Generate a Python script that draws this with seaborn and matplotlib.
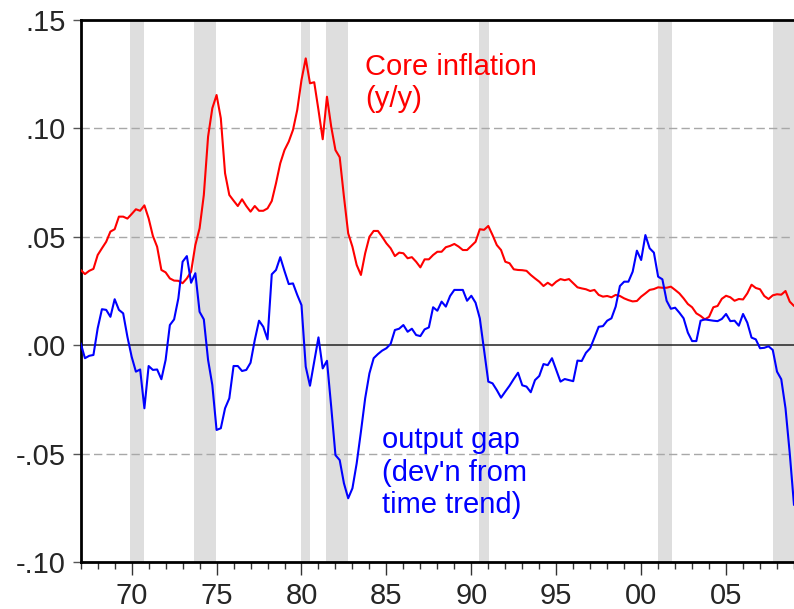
import numpy as np
import pandas as pd
import matplotlib
matplotlib.use("Agg")
import matplotlib.pyplot as plt
import seaborn as sns
from matplotlib.ticker import FuncFormatter, MultipleLocator

# ---------------- data (quarterly, starting 1967Q1) ----------------
start_year = 1967
core_inflation = [
    0.0347, 0.0328, 0.0343, 0.0352,   # 1967
    0.0416, 0.0447, 0.0477, 0.0524,   # 1968
    0.0535, 0.0593, 0.0593, 0.0584,   # 1969
    0.0605, 0.0627, 0.0620, 0.0645,   # 1970
    0.0585, 0.0504, 0.0454, 0.0347,   # 1971
    0.0336, 0.0308, 0.0298, 0.0297,   # 1972
    0.0286, 0.0308, 0.0339, 0.0462,   # 1973
    0.0539, 0.0693, 0.0962, 0.1093,   # 1974
    0.1154, 0.1047, 0.0793, 0.0693,   # 1975
    0.0667, 0.0642, 0.0673, 0.0642,   # 1976
    0.0616, 0.0642, 0.0620, 0.0620,   # 1977
    0.0631, 0.0665, 0.0747, 0.0839,   # 1978
    0.0900, 0.0939, 0.0993, 0.1085,   # 1979
    0.1223, 0.1323, 0.1208, 0.1213,   # 1980
    0.1085, 0.0950, 0.1146, 0.1008,   # 1981
    0.0900, 0.0867, 0.0685, 0.0516,   # 1982
    0.0454, 0.0370, 0.0324, 0.0424,   # 1983
    0.0500, 0.0527, 0.0527, 0.0500,   # 1984
    0.0470, 0.0447, 0.0411, 0.0427,   # 1985
    0.0424, 0.0401, 0.0406, 0.0385,   # 1986
    0.0359, 0.0396, 0.0396, 0.0416,   # 1987
    0.0431, 0.0431, 0.0452, 0.0458,   # 1988
    0.0467, 0.0455, 0.0439, 0.0439,   # 1989
    0.0458, 0.0477, 0.0535, 0.0532,   # 1990
    0.0550, 0.0508, 0.0462, 0.0439,   # 1991
    0.0385, 0.0378, 0.0350, 0.0347,   # 1992
    0.0346, 0.0343, 0.0324, 0.0308,   # 1993
    0.0293, 0.0273, 0.0288, 0.0275,   # 1994
    0.0293, 0.0305, 0.0300, 0.0305,   # 1995
    0.0286, 0.0267, 0.0262, 0.0258,   # 1996
    0.0250, 0.0255, 0.0232, 0.0224,   # 1997
    0.0227, 0.0221, 0.0232, 0.0227,   # 1998
    0.0216, 0.0208, 0.0202, 0.0204,   # 1999
    0.0224, 0.0239, 0.0255, 0.0259,   # 2000
    0.0267, 0.0265, 0.0265, 0.0270,   # 2001
    0.0255, 0.0239, 0.0216, 0.0190,   # 2002
    0.0175, 0.0147, 0.0135, 0.0119,   # 2003
    0.0131, 0.0175, 0.0181, 0.0214,   # 2004
    0.0228, 0.0221, 0.0205, 0.0213,   # 2005
    0.0211, 0.0239, 0.0279, 0.0264,   # 2006
    0.0258, 0.0227, 0.0213, 0.0230,   # 2007
    0.0235, 0.0233, 0.0250, 0.0201,   # 2008
    0.0181,                           # 2009
]
output_gap = [
    0.0009, -0.0060, -0.0049, -0.0045,   # 1967
    0.0078, 0.0166, 0.0163, 0.0131,      # 1968
    0.0212, 0.0163, 0.0147, 0.0039,      # 1969
    -0.0053, -0.0122, -0.0112, -0.0291,  # 1970
    -0.0096, -0.0114, -0.0112, -0.0157,  # 1971
    -0.0068, 0.0093, 0.0119, 0.0216,     # 1972
    0.0385, 0.0411, 0.0288, 0.0332,      # 1973
    0.0154, 0.0119, -0.0068, -0.0184,    # 1974
    -0.0391, -0.0383, -0.0291, -0.0245,  # 1975
    -0.0096, -0.0096, -0.0119, -0.0114,  # 1976
    -0.0081, 0.0024, 0.0113, 0.0085,     # 1977
    0.0027, 0.0327, 0.0347, 0.0406,      # 1978
    0.0342, 0.0282, 0.0285, 0.0232,      # 1979
    0.0185, -0.0099, -0.0187, -0.0076,   # 1980
    0.0036, -0.0107, -0.0072, -0.0284,   # 1981
    -0.0507, -0.0530, -0.0637, -0.0706,  # 1982
    -0.0660, -0.0545, -0.0399, -0.0245,  # 1983
    -0.0130, -0.0060, -0.0041, -0.0025,  # 1984
    -0.0014, 0.0006, 0.0070, 0.0076,     # 1985
    0.0093, 0.0062, 0.0076, 0.0047,      # 1986
    0.0042, 0.0073, 0.0082, 0.0175,      # 1987
    0.0159, 0.0201, 0.0178, 0.0227,      # 1988
    0.0255, 0.0255, 0.0255, 0.0205,      # 1989
    0.0228, 0.0196, 0.0124, -0.0022,     # 1990
    -0.0168, -0.0176, -0.0207, -0.0242,  # 1991
    -0.0214, -0.0187, -0.0156, -0.0127,  # 1992
    -0.0185, -0.0191, -0.0217, -0.0161,  # 1993
    -0.0142, -0.0087, -0.0092, -0.0060,  # 1994
    -0.0114, -0.0168, -0.0156, -0.0161,  # 1995
    -0.0166, -0.0071, -0.0073, -0.0035,  # 1996
    -0.0014, 0.0036, 0.0085, 0.0088,     # 1997
    0.0113, 0.0124, 0.0178, 0.0273,      # 1998
    0.0293, 0.0293, 0.0339, 0.0436,      # 1999
    0.0393, 0.0508, 0.0447, 0.0427,      # 2000
    0.0316, 0.0304, 0.0205, 0.0168,      # 2001
    0.0173, 0.0150, 0.0124, 0.0058,      # 2002
    0.0019, 0.0019, 0.0113, 0.0119,      # 2003
    0.0116, 0.0113, 0.0111, 0.0121,      # 2004
    0.0144, 0.0111, 0.0113, 0.0090,      # 2005
    0.0144, 0.0104, 0.0035, 0.0027,      # 2006
    -0.0014, -0.0012, -0.0005, -0.0022,  # 2007
    -0.0122, -0.0157, -0.0291, -0.0499,  # 2008
    -0.0737,                             # 2009
]
recession_start = [1969.92, 1973.67, 1979.96, 1981.46, 1990.46, 2001.00, 2007.77]
recession_end = [1970.71, 1974.99, 1980.49, 1982.74, 1991.05, 2001.81, 2009.00]
y_ticks = [-0.10, -0.05, 0.00, 0.05, 0.10, 0.15]
x_major_ticks = [1970, 1975, 1980, 1985, 1990, 1995, 2000, 2005]
label_core = "Core inflation\n(y/y)"
label_gap = "output gap\n(dev'n from\ntime trend)"

dates = start_year + np.arange(len(core_inflation)) / 4.0
df = pd.DataFrame({"date": dates, "core": core_inflation, "gap": output_gap})

# ---------------- figure ----------------
sns.set_style("white")
plt.rcParams["font.family"] = ["Liberation Sans", "DejaVu Sans"]
FS = 21

W, H = 794, 609
fig = plt.figure(figsize=(W / 100, H / 100), dpi=100)
left_px, right_px, top_px, bottom_px = 80.7, 794, 20, 562
ax = fig.add_axes([left_px / W, 1 - bottom_px / H,
                   (right_px - left_px) / W, (bottom_px - top_px) / H])

for s, e in zip(recession_start, recession_end):
    ax.axvspan(s, e, color="#dedede", lw=0, zorder=0)

for yv in y_ticks:
    if yv == 0:
        ax.axhline(yv, color="#222222", lw=1.1, zorder=1)
    elif yv not in (y_ticks[0], y_ticks[-1]):
        ax.axhline(yv, color="#a8a8a8", lw=1.0, ls=(0, (6, 3)), zorder=1)

sns.lineplot(data=df, x="date", y="core", color="#ff0000", lw=1.5,
             estimator=None, ax=ax, zorder=3)
sns.lineplot(data=df, x="date", y="gap", color="#0000ff", lw=1.5,
             estimator=None, ax=ax, zorder=3)

ax.set_xlim(start_year, dates[-1])
ax.set_ylim(y_ticks[0], y_ticks[-1])
ax.set_xlabel("")
ax.set_ylabel("")

ax.set_yticks(y_ticks)
ax.yaxis.set_major_formatter(FuncFormatter(lambda v, p: f"{v:.2f}".replace("0.", ".", 1)))
ax.set_xticks(x_major_ticks)
ax.xaxis.set_minor_locator(MultipleLocator(1))
ax.xaxis.set_major_formatter(FuncFormatter(lambda v, p: f"{int(round(v)) % 100:02d}"))

ax.tick_params(axis="y", which="major", direction="out", length=6, width=1.0,
               color="#555555", labelsize=FS, pad=5, left=True)
ax.tick_params(axis="x", which="major", direction="out", length=9, width=1.0,
               color="#333333", labelsize=FS, pad=5.5, bottom=True)
ax.tick_params(axis="x", which="minor", direction="out", length=5, width=1.0,
               color="#333333", bottom=True)

for side in ["left", "top", "bottom"]:
    ax.spines[side].set_color("black")
    ax.spines[side].set_linewidth(2.0)
ax.spines["right"].set_visible(False)

ax.text(1983.74, 0.1348, label_core, color="#ff0000", fontsize=FS,
        ha="left", va="top", linespacing=1.2)
ax.text(1984.74, -0.0375, label_gap, color="#0000ff", fontsize=FS,
        ha="left", va="top", linespacing=1.2)

fig.savefig("out.png", dpi=100)
